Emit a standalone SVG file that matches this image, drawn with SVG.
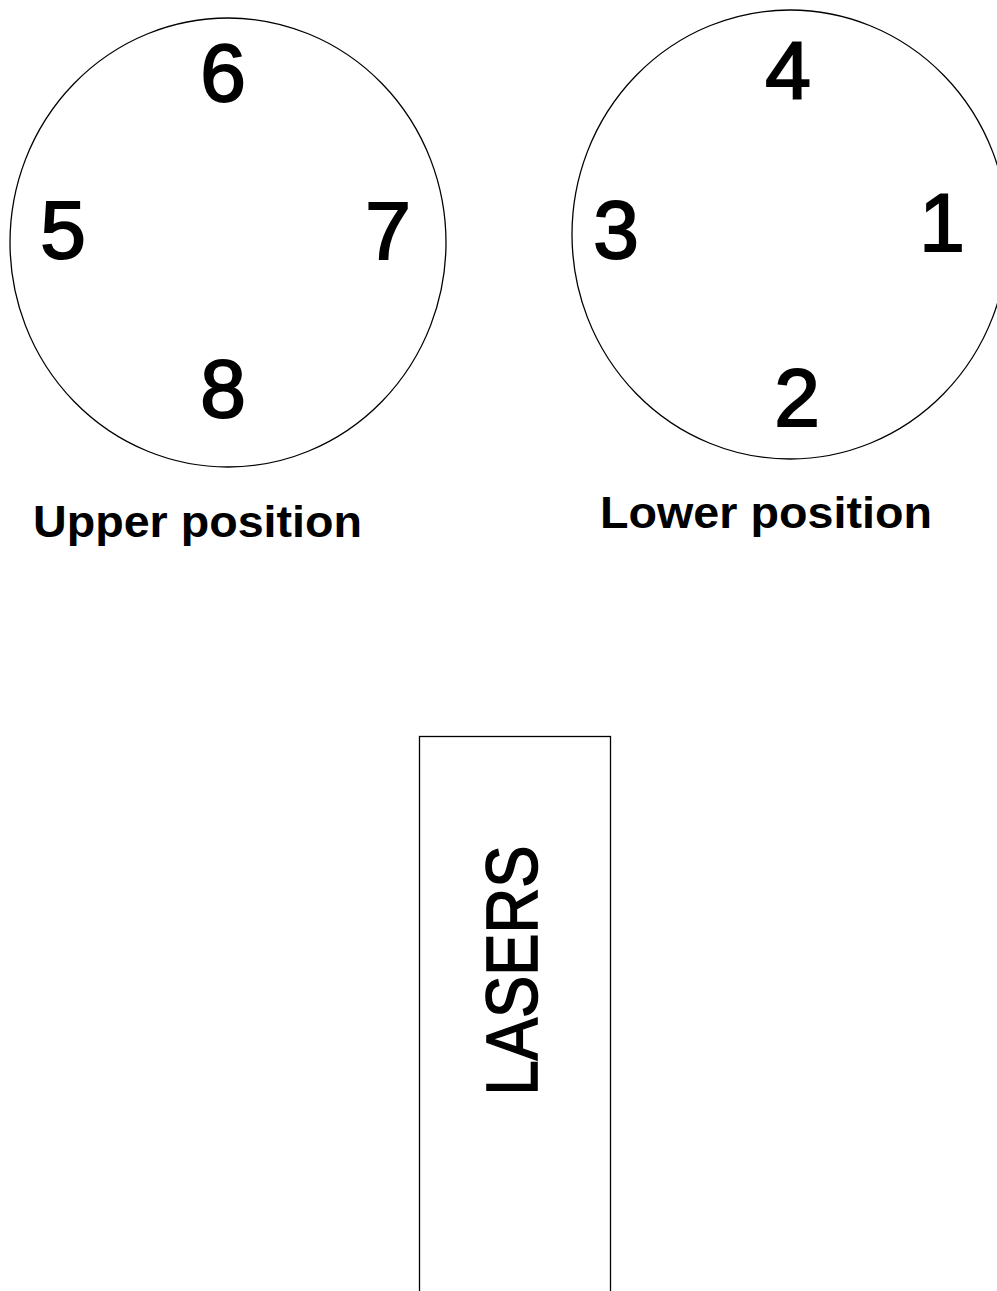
<svg xmlns="http://www.w3.org/2000/svg" width="997" height="1291" viewBox="0 0 997 1291">
<style>
.outline{fill:none;stroke:#000;stroke-width:1.3}
.num{font-family:"Liberation Sans",Arial,sans-serif;font-size:82px;fill:#000;stroke:#000;stroke-width:2;text-anchor:middle}
.lbl{font-family:"Liberation Sans",Arial,sans-serif;font-size:45px;font-weight:bold;fill:#000}
.big{font-family:"Liberation Sans",Arial,sans-serif;font-size:72px;fill:#000;stroke:#000;stroke-width:1.6;text-anchor:middle}
</style>
<rect width="997" height="1291" fill="#fff"/>
<g id="upper">
<ellipse class="outline" cx="228" cy="242.5" rx="218" ry="224.5"/>
<text class="num" x="223" y="101">6</text>
<text class="num" x="63" y="258">5</text>
<text class="num" x="388" y="259">7</text>
<text class="num" x="223" y="417">8</text>
<text class="lbl" x="33" y="537" textLength="329" lengthAdjust="spacingAndGlyphs">Upper position</text>
</g>
<g id="lower">
<ellipse class="outline" cx="790" cy="234.5" rx="218" ry="224.5"/>
<text class="num" x="788" y="99">4</text>
<text class="num" x="616" y="258">3</text>
<text class="num" x="942" y="251">1</text>
<text class="num" x="797" y="426">2</text>
<text class="lbl" x="600" y="528" textLength="332" lengthAdjust="spacingAndGlyphs">Lower position</text>
</g>
<g id="lasers">
<rect class="outline" x="419.5" y="736.5" width="191" height="600"/>
<text class="big" transform="translate(537,970.5) rotate(-90)" textLength="250" lengthAdjust="spacingAndGlyphs">LASERS</text>
</g>
<g id="connectors"/>
</svg>
